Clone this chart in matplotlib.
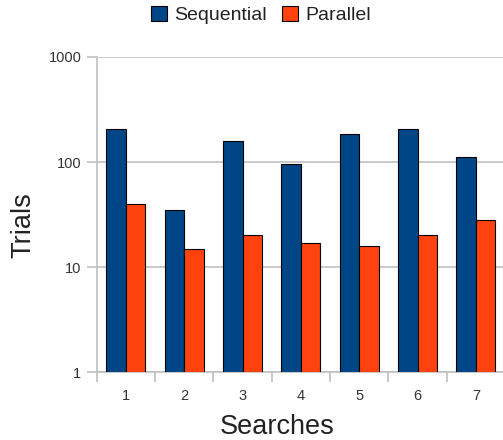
import numpy as np
import matplotlib.pyplot as plt
from matplotlib.ticker import FixedLocator, NullFormatter

plt.rcParams['font.family'] = ['Liberation Sans', 'DejaVu Sans']

# search results (trials needed per search)
searches = [1, 2, 3, 4, 5, 6, 7]
sequential = [208, 35, 157, 95, 186, 205, 112]
parallel = [40, 15, 20, 17, 16, 20, 28]

blue = "#004586"
orange = "#ff420e"
grid = "#c0c0c0"

fig = plt.figure(figsize=(5.03, 4.4), dpi=100)
ax = fig.add_axes([96.7 / 503, 1 - 372 / 440, (505 - 96.7) / 503, (372 - 57) / 440])

x = np.array(searches)
w = 1 / 3
b1 = ax.bar(x - w / 2, sequential, width=w, color=blue, edgecolor="black", linewidth=0.8, label="Sequential", zorder=3)
b2 = ax.bar(x + w / 2, parallel, width=w, color=orange, edgecolor="black", linewidth=0.8, label="Parallel", zorder=3)

ax.set_yscale("log")
ax.set_ylim(1, 1000)
ax.set_xlim(0.5, 7.5)
ax.set_yticks([1, 10, 100, 1000])
ax.set_yticklabels(["1", "10", "100", "1000"])
ax.yaxis.set_minor_locator(FixedLocator([]))
ax.yaxis.grid(True, color=grid, linewidth=1.2, zorder=0)

# category labels at centers, tick marks at boundaries
ax.set_xticks(x)
ax.set_xticklabels([str(s) for s in searches])
ax.tick_params(axis="x", which="major", length=0, pad=12, labelsize=10.5, labelcolor="#333333")
ax.set_xticks(np.arange(0.5, 8, 1), minor=True)
ax.xaxis.set_minor_formatter(NullFormatter())
ax.tick_params(axis="x", which="minor", length=7, color=grid, width=1.2)
ax.tick_params(axis="y", which="major", length=7, color=grid, width=1.2, labelsize=10.5, labelcolor="#333333", pad=4)

for s in ["top", "right"]:
    ax.spines[s].set_visible(False)
for s in ["left", "bottom"]:
    ax.spines[s].set_color(grid)
    ax.spines[s].set_linewidth(1.2)

# axis titles
fig.text(277.5 / 503, 1 - 434 / 440, "Searches", fontsize=19.5, color="#222222",
         ha="center", va="baseline")
fig.text(23 / 503, 1 - 225 / 440, "Trials", rotation=90, fontsize=19.5, color="#222222",
         ha="center", va="center")

fig.legend(handles=[b1, b2], loc="center", bbox_to_anchor=(261 / 503, 1 - 15 / 440),
           ncol=2, frameon=False, fontsize=14, handlelength=0.82, handleheight=0.82,
           handletextpad=0.36, columnspacing=0.82, borderpad=0, labelcolor="#222222")

fig.savefig("out.png", dpi=100)
